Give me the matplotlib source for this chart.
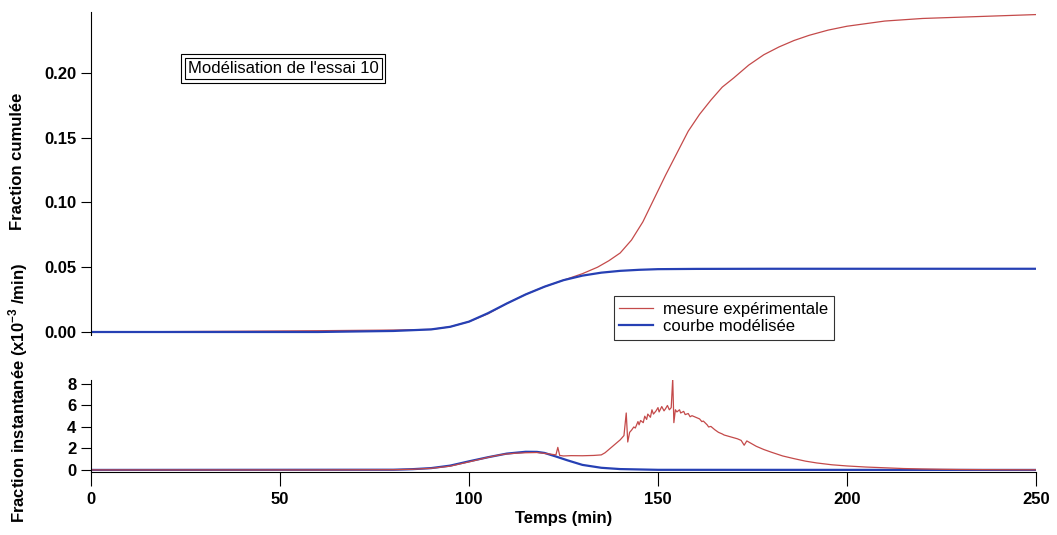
import matplotlib
matplotlib.use('Agg')
import matplotlib.pyplot as plt

plt.rcParams['font.family'] = ['Liberation Sans', 'DejaVu Sans']
plt.rcParams['mathtext.fontset'] = 'custom'
plt.rcParams['mathtext.rm'] = 'Liberation Sans:bold'
plt.rcParams['mathtext.bf'] = 'Liberation Sans:bold'

# cumulated fraction (top panel)
t_cum_exp = [0, 20, 40, 60, 80, 90, 95, 100, 105, 110, 115, 120, 125, 130, 134, 137,
             140, 143, 146, 149, 152, 155, 158, 161, 164, 167, 170, 174, 178, 182, 186,
             190, 195, 200, 210, 220, 230, 240, 250]
cum_exp = [0.0, 0.0003, 0.0006, 0.001, 0.0015, 0.002, 0.004, 0.008, 0.014, 0.022, 0.029,
           0.035, 0.040, 0.045, 0.050, 0.055, 0.061, 0.071, 0.085, 0.103, 0.121, 0.138,
           0.155, 0.168, 0.179, 0.189, 0.196, 0.206, 0.214, 0.220, 0.225, 0.229, 0.233,
           0.236, 0.240, 0.242, 0.243, 0.244, 0.245]

t_cum_mod = [0, 60, 80, 90, 95, 100, 105, 110, 115, 120, 125, 130, 135, 140, 145, 150,
             160, 180, 250]
cum_mod = [0.0, 0.0, 0.0008, 0.002, 0.004, 0.008, 0.0145, 0.022, 0.029, 0.035, 0.040,
           0.0435, 0.0458, 0.0472, 0.048, 0.0485, 0.0487, 0.0488, 0.0488]

# instantaneous fraction (x1e-3 /min, bottom panel)
t_inst_exp = [0, 20, 40, 60, 80, 85, 90, 95, 100, 103, 106, 109, 112, 115, 118, 121, 123,
              123.5, 124, 125, 127, 130, 133, 135, 136, 137, 138, 139, 140, 141,
              141.6, 142.0, 142.5, 143, 143.6, 144, 144.7, 145, 145.4, 146.1, 146.5, 147,
              147.3, 148, 148.4, 148.8, 149.5, 150, 150.3, 151, 151.6, 152, 152.5, 153,
              153.5, 153.9, 154.2, 154.6,
              155, 155.7, 156, 156.8, 157.2, 158, 158.5, 159, 160, 161, 161.6, 162, 163,
              163.4, 164, 165, 166, 167, 167.5, 168, 169, 170, 171, 172, 172.8, 173.5, 174.5,
              176, 178, 180, 183, 186, 189, 192, 196, 200, 205, 210, 215, 220, 225, 230,
              240, 250]
inst_exp = [0.0, 0.0, 0.0, 0.0, 0.02, 0.06, 0.15, 0.35, 0.75, 1.0, 1.25, 1.45, 1.55, 1.6,
            1.62, 1.5, 1.4, 2.1, 1.35, 1.3, 1.33, 1.32, 1.35, 1.4, 1.6, 1.9, 2.2, 2.5, 2.8,
            3.2,
            5.3, 2.6, 3.5, 3.7, 4.0, 3.9, 4.5, 4.2, 4.6, 4.4, 5.0, 4.7, 5.2, 4.9, 5.6,
            5.2, 5.5, 5.8, 5.4, 5.9, 5.5, 5.7, 6.0, 5.6, 5.8, 8.5, 4.4, 5.6,
            5.4, 5.6, 5.3, 5.45, 5.15, 5.25, 4.95, 5.05, 4.9, 4.75, 4.5, 4.55, 4.2,
            4.0, 4.05, 3.75, 3.5, 3.35, 3.25, 3.2, 3.1, 3.0, 2.9, 2.75, 2.3, 2.7, 2.5,
            2.2, 1.9, 1.65, 1.3, 1.05, 0.82, 0.65, 0.48, 0.37, 0.27, 0.2, 0.13, 0.09, 0.06,
            0.04, 0.02, 0.01]

t_inst_mod = [0, 80, 85, 90, 95, 100, 105, 110, 115, 118, 120, 123, 126, 130, 135, 140,
              150, 250]
inst_mod = [0.0, 0.02, 0.07, 0.17, 0.40, 0.80, 1.18, 1.52, 1.69, 1.68, 1.58, 1.25, 0.90,
            0.47, 0.20, 0.08, 0.01, 0.0]

red = '#c44a4a'
blue = '#2640b4'

fig = plt.figure(figsize=(10.57, 5.35), dpi=100)
ax1 = fig.add_axes([0.0861, 0.3746, 0.8940, 0.6030])
ax2 = fig.add_axes([0.0861, 0.1172, 0.8940, 0.1725])

l1, = ax1.plot(t_cum_exp, cum_exp, color=red, lw=0.9, label='mesure expérimentale')
l2, = ax1.plot(t_cum_mod, cum_mod, color=blue, lw=1.6, label='courbe modélisée')
ax2.plot(t_inst_mod, inst_mod, color=blue, lw=1.6)
ax2.plot(t_inst_exp, inst_exp, color=red, lw=0.9)

for ax in (ax1, ax2):
    ax.set_xlim(0, 250)
    ax.spines['top'].set_visible(False)
    ax.spines['right'].set_visible(False)
    ax.tick_params(direction='out', length=7, width=0.8, labelsize=12)

ax1.set_ylim(-0.002, 0.247)
ax1.set_yticks([0.0, 0.05, 0.10, 0.15, 0.20])
ax1.set_yticklabels(['0.00', '0.05', '0.10', '0.15', '0.20'], fontweight='bold')
ax1.spines['bottom'].set_visible(False)
ax1.set_xticks([])

ax2.set_ylim(-0.22, 8.37)
ax2.set_yticks([0, 2, 4, 6, 8])
ax2.set_yticklabels(['0', '2', '4', '6', '8'], fontweight='bold')
ax2.set_xticks([0, 50, 100, 150, 200, 250])
ax2.set_xticklabels(['0', '50', '100', '150', '200', '250'], fontweight='bold')
ax2.tick_params(axis='x', length=10, pad=4)
ax2.set_xlabel('Temps (min)', fontsize=12, fontweight='bold', labelpad=3)

fig.text(0.017, 1 - 161 / 535, 'Fraction cumulée', rotation=90, ha='center', va='center',
         fontsize=12, fontweight='bold')
fig.text(0.017, 1 - 393 / 535, r'Fraction instantanée (x10$^{-3}$ /min)', rotation=90,
         ha='center', va='center', fontsize=12, fontweight='bold')

# title box with double border
ax1.text(0.2035, 0.825, "Modélisation de l'essai 10", transform=ax1.transAxes, fontsize=12,
         ha='center', va='center',
         bbox=dict(boxstyle='square,pad=0.2', fc='white', ec='black', lw=0.8))
ax1.text(0.2035, 0.825, "Modélisation de l'essai 10", transform=ax1.transAxes, fontsize=12,
         ha='center', va='center', color='none',
         bbox=dict(boxstyle='square,pad=0.4', fc='none', ec='black', lw=0.8))

leg = ax1.legend(handles=[l1, l2], loc='upper left', bbox_to_anchor=(0.553, 0.12),
                 fontsize=12, frameon=True, fancybox=False, borderaxespad=0,
                 handlelength=2.0, handletextpad=0.6, borderpad=0.35, labelspacing=0.15)
leg.get_frame().set_edgecolor('black')
leg.get_frame().set_linewidth(0.8)

fig.savefig('out.png', dpi=100)
